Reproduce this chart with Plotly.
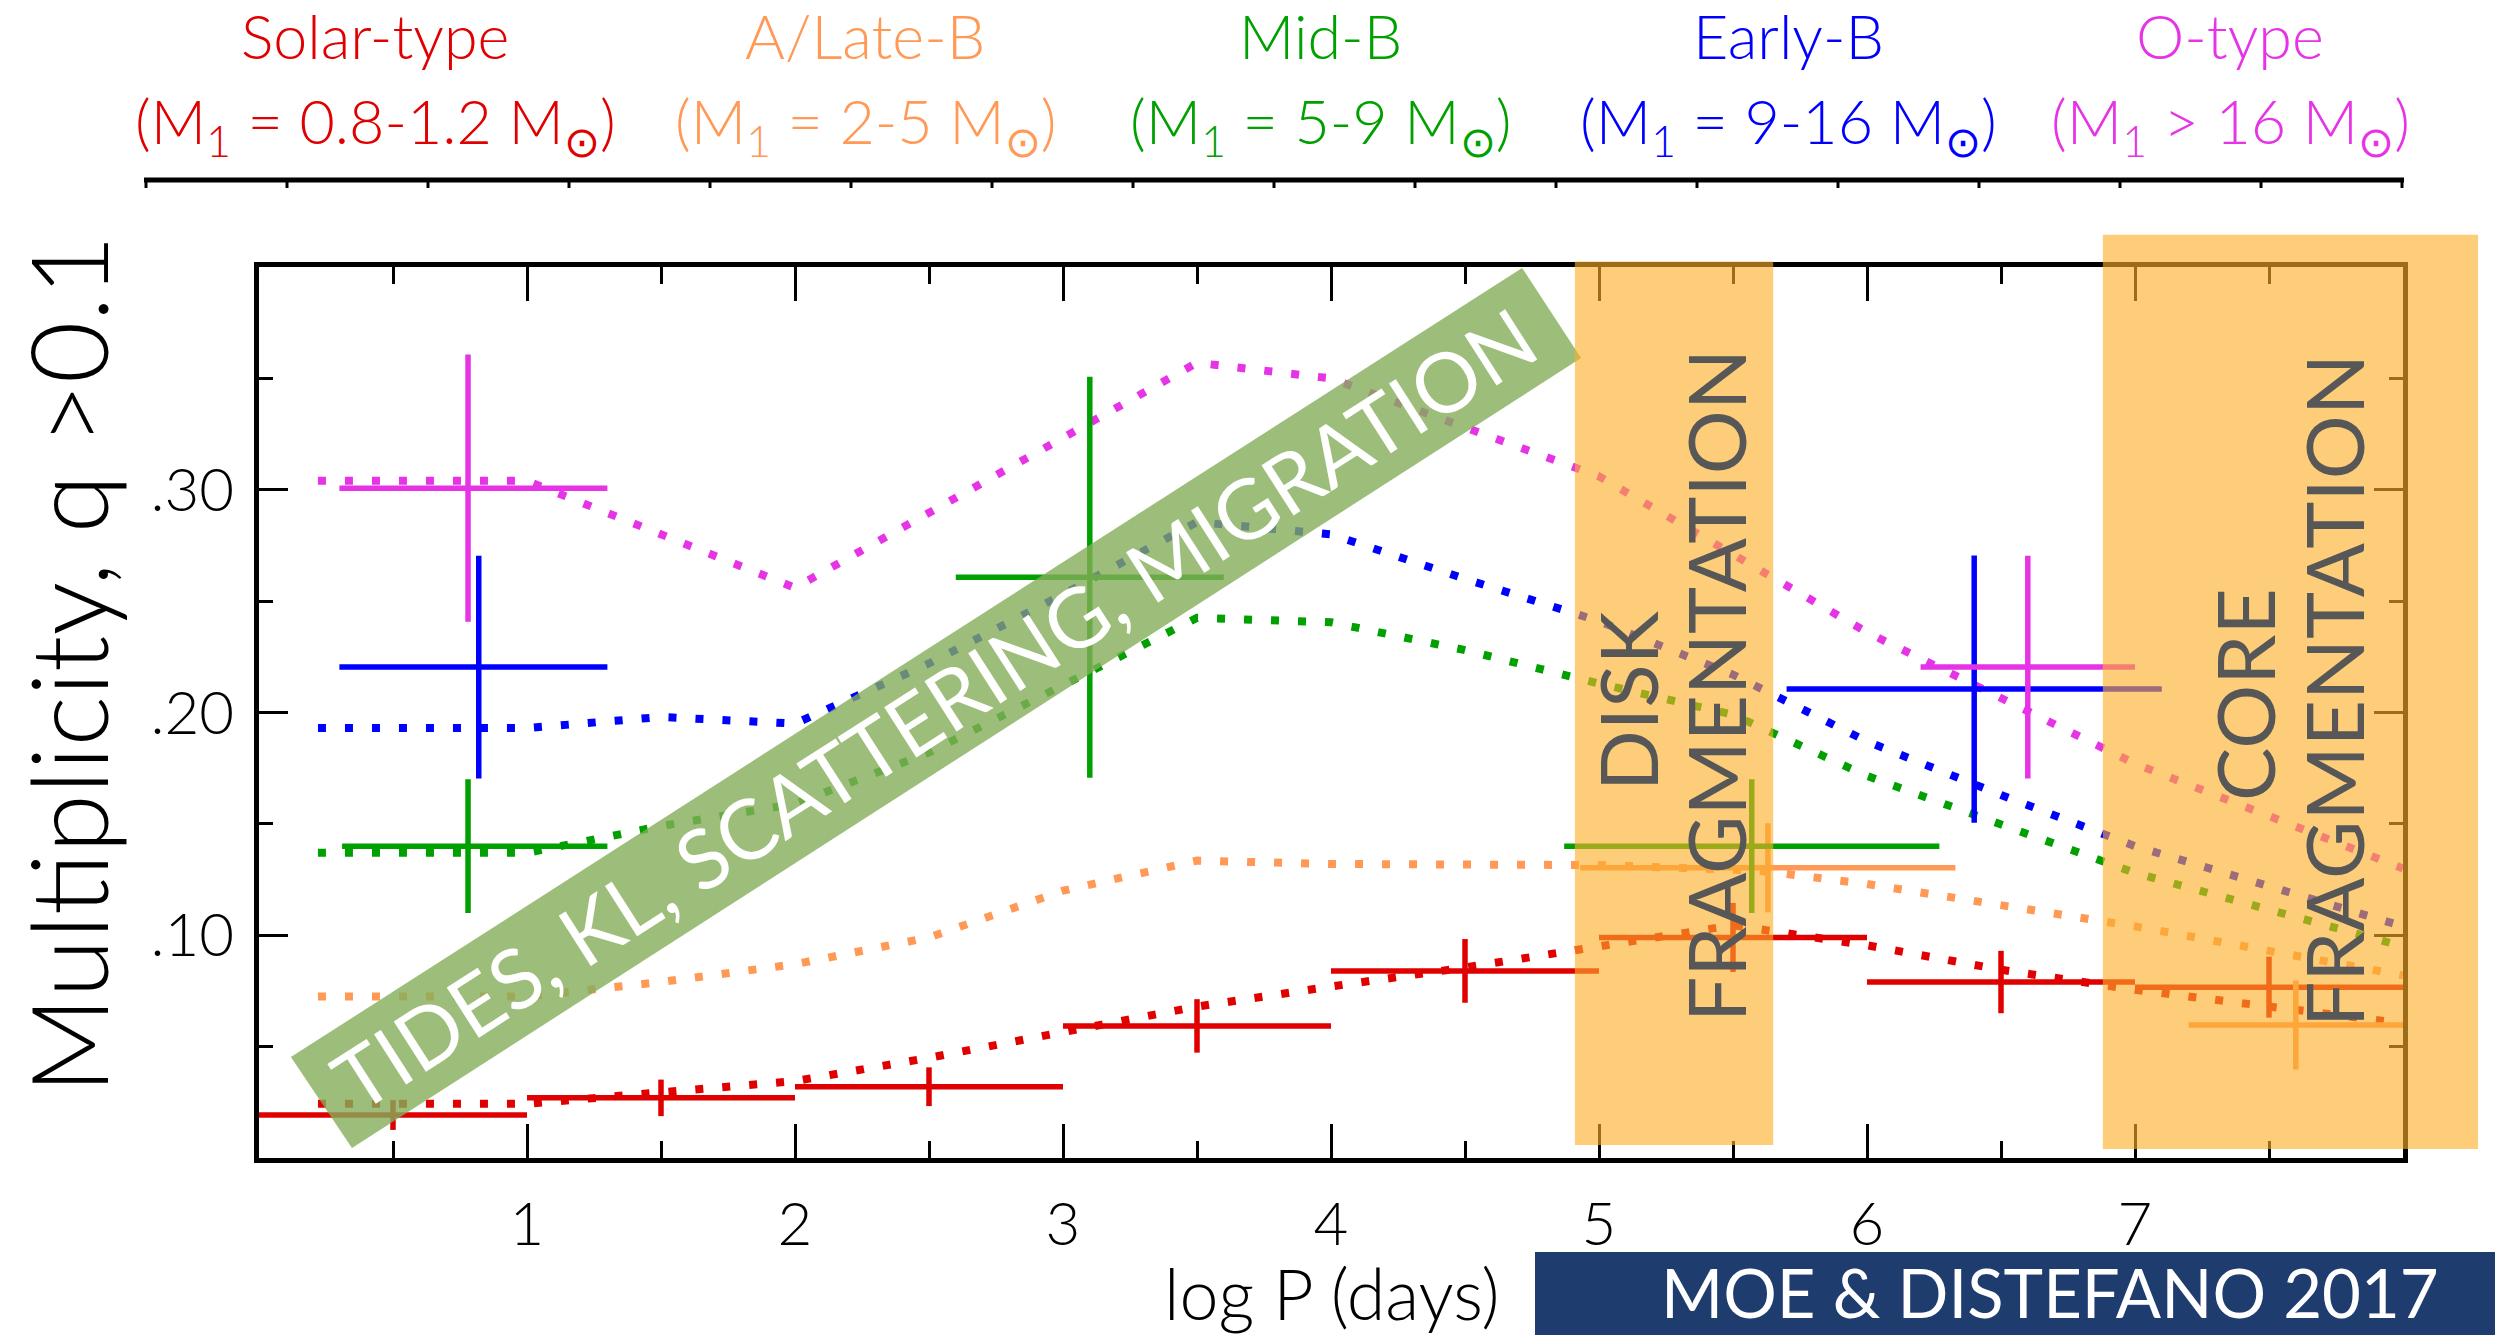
import plotly.graph_objects as go

# ---------------- data ----------------
# observed multiplicity (q > 0.1): centre, x half-widths (plus / minus), y errors
solar_x = [0.5, 1.5, 2.5, 3.5, 4.5, 5.5, 6.5, 7.5]
solar_y = [0.0193, 0.0270, 0.0320, 0.0593, 0.0840, 0.0990, 0.0790, 0.0767]
solar_xp = [0.5, 0.5, 0.5, 0.5, 0.5, 0.5, 0.5, 0.5]
solar_xm = [0.5, 0.5, 0.5, 0.5, 0.5, 0.5, 0.5, 0.5]
solar_yerr = [0.0067, 0.0082, 0.0087, 0.0120, 0.0143, 0.0155, 0.0140, 0.0137]

latb_x = [5.63, 7.60]
latb_y = [0.1303, 0.0597]
latb_xp = [0.70, 0.40]
latb_xm = [0.70, 0.40]
latb_yerr = [0.020, 0.020]

midb_x = [0.78, 3.10, 5.57]
midb_y = [0.1400, 0.2607, 0.1400]
midb_xp = [0.52, 0.50, 0.70]
midb_xm = [0.47, 0.50, 0.70]
midb_yerr = [0.030, 0.090, 0.030]

earlyb_x = [0.82, 6.40]
earlyb_y = [0.2204, 0.2105]
earlyb_xp = [0.48, 0.70]
earlyb_xm = [0.52, 0.70]
earlyb_yerr = [0.050, 0.060]

otype_x = [0.78, 6.60]
otype_y = [0.3007, 0.2204]
otype_xp = [0.52, 0.40]
otype_xm = [0.48, 0.40]
otype_yerr = [0.060, 0.050]

# model curves (dotted)
solar_mx = [0.22, 1.0, 1.5, 2.0, 2.5, 3.0, 3.5, 4.0, 4.5, 5.0, 5.5, 6.0, 6.5, 7.0, 8.0]
solar_my = [0.0243, 0.0243, 0.0295, 0.0345, 0.0450, 0.0565, 0.0680, 0.0770, 0.0855,
            0.0950, 0.1045, 0.0955, 0.0845, 0.0755, 0.0605]
latb_mx = [0.22, 1.0, 1.5, 2.0, 2.5, 3.0, 3.5, 4.0, 5.0, 5.6, 6.0, 7.0, 8.0]
latb_my = [0.0725, 0.0725, 0.0790, 0.0870, 0.0990, 0.1200, 0.1335, 0.1320, 0.1315,
           0.1290, 0.1230, 0.1040, 0.0820]
midb_mx = [0.22, 1.0, 1.5, 2.0, 2.5, 3.0, 3.5, 4.0, 4.5, 5.0, 5.5, 6.0, 6.5, 7.0, 8.0]
midb_my = [0.137, 0.137, 0.149, 0.159, 0.182, 0.212, 0.2425, 0.2405, 0.228, 0.213,
           0.199, 0.1715, 0.150, 0.128, 0.095]
earlyb_mx = [0.22, 1.0, 1.5, 2.0, 2.5, 3.0, 3.5, 4.0, 4.5, 5.0, 5.5, 6.0, 6.5, 7.0, 8.0]
earlyb_my = [0.193, 0.193, 0.198, 0.195, 0.222, 0.253, 0.2855, 0.280, 0.260, 0.241,
             0.217, 0.187, 0.163, 0.140, 0.104]
otype_mx = [0.22, 1.0, 2.0, 3.5, 4.0, 5.0, 6.0, 7.0, 8.0]
otype_my = [0.304, 0.304, 0.256, 0.357, 0.350, 0.306, 0.236, 0.177, 0.130]

# axis ticks
x_tickvals = [1, 2, 3, 4, 5, 6, 7]
x_ticktext = ["1", "2", "3", "4", "5", "6", "7"]
x_minor = [0.5, 1.5, 2.5, 3.5, 4.5, 5.5, 6.5, 7.5]
y_tickvals = [0.10, 0.20, 0.30]
y_ticktext = [".10", ".20", ".30"]
y_minor = [0.05, 0.15, 0.25, 0.35]

# header labels
head_names = ["Solar-type", "A/Late-B", "Mid-B", "Early-B", "O-type"]
head_ranges = ["(M<sub>1</sub> = 0.8-1.2 M<sub>⊙</sub>)",
               "(M<sub>1</sub> = 2-5 M<sub>⊙</sub>)",
               "(M<sub>1</sub> = 5-9 M<sub>⊙</sub>)",
               "(M<sub>1</sub> = 9-16 M<sub>⊙</sub>)",
               "(M<sub>1</sub> > 16 M<sub>⊙</sub>)"]
colors = ["#E00000", "#FF9955", "#00A000", "#0000FF", "#E633E6"]

# fragmentation regions (data units: x0, x1, y0, y1)
disk_box = [4.91, 5.65, 0.0058, 0.4025]
core_box = [6.88, 8.28, 0.0040, 0.4145]
# tilted banner corners (data units)
banner_x = [0.119, 0.347, 4.933, 4.713]
banner_y = [0.0453, 0.0045, 0.3591, 0.3996]

# ---------------- layout geometry ----------------
W, H = 2495, 1335
L, R, T, B = 259, 92, 267, 177
PW, PH = W - L - R, H - T - B
XR = [0, 8]
YR = [0, 0.4]
FONT = "Lato"


def px_x(px):
    return (px - L) / PW


def px_y(py):
    return (H - B - py) / PH


def dx(v):
    return (v - XR[0]) / (XR[1] - XR[0])


def dy(v):
    return (v - YR[0]) / (YR[1] - YR[0])


fig = go.Figure()

models = [(solar_mx, solar_my), (latb_mx, latb_my), (midb_mx, midb_my),
          (earlyb_mx, earlyb_my), (otype_mx, otype_my)]
obs = [(solar_x, solar_y, solar_xp, solar_xm, solar_yerr),
       (latb_x, latb_y, latb_xp, latb_xm, latb_yerr),
       (midb_x, midb_y, midb_xp, midb_xm, midb_yerr),
       (earlyb_x, earlyb_y, earlyb_xp, earlyb_xm, earlyb_yerr),
       (otype_x, otype_y, otype_xp, otype_xm, otype_yerr)]

for (mx, my), c, n in zip(models, colors, head_names):
    fig.add_trace(go.Scatter(x=mx, y=my, mode="lines", name=n + " model",
                             line=dict(color=c, width=8, dash="8px,19px"),
                             hoverinfo="skip"))

for (ox, oy, xp, xm, ye), c, n in zip(obs, colors, head_names):
    fig.add_trace(go.Scatter(
        x=ox, y=oy, mode="markers", name=n,
        marker=dict(size=1, color=c),
        error_x=dict(type="data", array=xp, arrayminus=xm, symmetric=False,
                     thickness=5.5, width=0, color=c),
        error_y=dict(type="data", array=ye, symmetric=True,
                     thickness=5.5, width=0, color=c)))

shapes = []
# green banner
path = "M " + " L ".join(f"{dx(a):.5f},{dy(b):.5f}" for a, b in zip(banner_x, banner_y)) + " Z"
shapes.append(dict(type="path", xref="paper", yref="paper", path=path,
                   fillcolor="rgb(132,174,90)", opacity=0.8, line=dict(width=0),
                   layer="above"))
# fragmentation boxes
for bx in (disk_box, core_box):
    shapes.append(dict(type="rect", xref="paper", yref="paper",
                       x0=dx(bx[0]), x1=dx(bx[1]), y0=dy(bx[2]), y1=dy(bx[3]),
                       fillcolor="rgba(252,175,40,0.62)", line=dict(width=0),
                       layer="above"))
# decorative top rule with small ticks
shapes.append(dict(type="line", xref="paper", yref="paper",
                   x0=px_x(144), x1=px_x(2404), y0=px_y(180), y1=px_y(180),
                   line=dict(color="black", width=5)))
for i in range(17):
    xx = px_x(146 + i * 141)
    shapes.append(dict(type="line", xref="paper", yref="paper",
                       x0=xx, x1=xx, y0=px_y(180), y1=px_y(188),
                       line=dict(color="black", width=3)))
# credit box
shapes.append(dict(type="rect", xref="paper", yref="paper",
                   x0=px_x(1535), x1=px_x(2500), y0=px_y(1252), y1=px_y(1340),
                   fillcolor="#1F3C6E", line=dict(width=0), layer="above"))

ann = []
head_x = [375, 865, 1320, 1788, 2230]
for name, rng, c, hx in zip(head_names, head_ranges, colors, head_x):
    ann.append(dict(text=name, x=px_x(hx), y=px_y(36), xref="paper", yref="paper",
                    showarrow=False, xanchor="center", yanchor="middle",
                    font=dict(family=FONT, size=61, color=c, weight=300)))
    ann.append(dict(text=rng, x=px_x(hx), y=px_y(125), xref="paper", yref="paper",
                    showarrow=False, xanchor="center", yanchor="middle",
                    font=dict(family=FONT, size=61, color=c, weight=300)))

ann.append(dict(text="Multiplicity, q >0.1", x=px_x(66), y=px_y(664),
                xref="paper", yref="paper", showarrow=False, textangle=-90,
                xanchor="center", yanchor="middle",
                font=dict(family=FONT, size=107, color="black", weight=300)))
ann.append(dict(text="log P (days)", x=px_x(1331), y=px_y(1293),
                xref="paper", yref="paper", showarrow=False,
                xanchor="center", yanchor="middle",
                font=dict(family=FONT, size=70, color="black", weight=300)))
ann.append(dict(text="MOE & DISTEFANO 2017", x=px_x(2050), y=px_y(1292),
                xref="paper", yref="paper", showarrow=False,
                xanchor="center", yanchor="middle",
                font=dict(family=FONT, size=67, color="white")))
ann.append(dict(text="TIDES, KL, SCATTERING, MIGRATION", x=px_x(934), y=px_y(708),
                xref="paper", yref="paper", showarrow=False, textangle=-32.66,
                xanchor="center", yanchor="middle",
                font=dict(family=FONT, size=83, color="white")))
gray = "#575757"
for txt, cx, cy in [("DISK", 1627, 701), ("FRAGMENTATION", 1715, 686),
                    ("CORE", 2244, 695), ("FRAGMENTATION", 2333, 691)]:
    ann.append(dict(text=txt, x=px_x(cx), y=px_y(cy), xref="paper", yref="paper",
                    showarrow=False, textangle=-90, xanchor="center", yanchor="middle",
                    font=dict(family=FONT, size=80, color=gray)))

axis_common = dict(showline=True, linewidth=5, linecolor="black", mirror="ticks",
                   ticks="inside", tickwidth=3, tickcolor="black",
                   showgrid=False, zeroline=False, tickmode="array")

fig.update_layout(
    width=W, height=H,
    margin=dict(l=L, r=R, t=T, b=B, pad=0),
    paper_bgcolor="white", plot_bgcolor="white",
    showlegend=False,
    shapes=shapes, annotations=ann,
    xaxis=dict(range=XR, tickvals=x_tickvals, ticktext=x_ticktext, ticklen=34,
               ticklabelstandoff=10,
               minor=dict(tickmode="array", tickvals=x_minor, ticks="inside",
                          ticklen=17, tickwidth=3, tickcolor="black", showgrid=False),
               tickfont=dict(family=FONT, size=60, color="black", weight=300),
               **axis_common),
    yaxis=dict(range=YR, tickvals=y_tickvals, ticktext=y_ticktext, ticklen=29,
               ticklabelstandoff=8,
               minor=dict(tickmode="array", tickvals=y_minor, ticks="inside",
                          ticklen=14, tickwidth=3, tickcolor="black", showgrid=False),
               tickfont=dict(family=FONT, size=60, color="black", weight=300),
               **axis_common),
)

fig.write_html("out.html", config={"displayModeBar": False},
               post_script="document.body.style.margin='0px';"
                           "document.body.style.overflow='hidden';")
